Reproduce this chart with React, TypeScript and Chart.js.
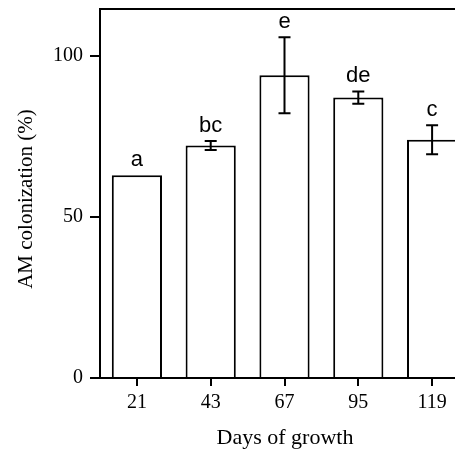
import React, { useEffect, useRef } from "react";
import { Chart, registerables } from "chart.js";

Chart.register(...registerables);

const days = ["21", "43", "67", "95", "119"];
const colonization = [63.0, 72.2, 94.0, 87.1, 74.0];
const errors = [0, 1.4, 11.8, 1.9, 4.5];
const letters = ["a", "bc", "e", "de", "c"];
const yTicks = [0, 50, 100];
const xTitle = "Days of growth";
const yTitle = "AM colonization (%)";

const SERIF = "'Liberation Serif', 'Times New Roman', serif";
const SANS = "'Liberation Sans', Arial, sans-serif";

const overlay = {
  id: "overlay",
  afterDatasetsDraw(chart: any) {
    const ctx = chart.ctx;
    const area = chart.chartArea;
    const ys = chart.scales.y;
    const meta = chart.getDatasetMeta(0);
    ctx.save();
    ctx.strokeStyle = "#000";
    ctx.lineWidth = 2;
    ctx.beginPath();
    ctx.moveTo(area.left, area.top);
    ctx.lineTo(area.right, area.top);
    ctx.lineTo(area.right, area.bottom);
    ctx.stroke();
    meta.data.forEach((bar: any, i: number) => {
      const v = colonization[i];
      const e = errors[i];
      const x = bar.x;
      const yTop = ys.getPixelForValue(v + e);
      if (e > 0) {
        const yBot = ys.getPixelForValue(v - e);
        ctx.beginPath();
        ctx.moveTo(x, yTop);
        ctx.lineTo(x, yBot);
        ctx.moveTo(x - 6, yTop);
        ctx.lineTo(x + 6, yTop);
        ctx.moveTo(x - 6, yBot);
        ctx.lineTo(x + 6, yBot);
        ctx.stroke();
      }
      ctx.fillStyle = "#000";
      ctx.font = `22px ${SANS}`;
      ctx.textAlign = "center";
      ctx.textBaseline = "alphabetic";
      ctx.fillText(letters[i], x, yTop - 9);
    });
    ctx.fillStyle = "#000";
    ctx.textAlign = "center";
    ctx.textBaseline = "middle";
    ctx.font = `22px ${SERIF}`;
    ctx.fillText(xTitle, 277, 430);
    ctx.translate(18, 191);
    ctx.rotate(-Math.PI / 2);
    ctx.font = `21px ${SERIF}`;
    ctx.fillText(yTitle, 0, 0);
    ctx.restore();
  },
};

export default function App() {
  const ref = useRef<HTMLCanvasElement | null>(null);
  useEffect(() => {
    if (!ref.current) return;
    const prevOverflow = document.body.style.overflow;
    document.body.style.overflow = "hidden";
    const chart = new Chart(ref.current, {
      type: "bar",
      data: {
        labels: days,
        datasets: [
          {
            data: colonization,
            backgroundColor: "#fff",
            borderColor: "#000",
            borderWidth: 2,
            barPercentage: 0.68,
            categoryPercentage: 1,
          },
        ],
      },
      options: {
        animation: false,
        responsive: false,
        maintainAspectRatio: false,
        layout: { padding: { top: 1, left: 0, right: 19, bottom: 0 } },
        plugins: { legend: { display: false }, tooltip: { enabled: false } },
        scales: {
          x: {
            offset: true,
            grid: {
              display: true,
              offset: false,
              drawOnChartArea: false,
              drawTicks: true,
              tickLength: 8,
              color: "#000",
              lineWidth: 2,
            },
            border: { display: true, color: "#000", width: 2 },
            ticks: {
              color: "#000",
              font: { family: SERIF, size: 20 },
              padding: 5,
              maxRotation: 0,
            },
            afterFit(scale: any) {
              scale.height = 77;
              scale.paddingLeft = 0;
              scale.paddingRight = 0;
            },
          },
          y: {
            min: 0,
            max: 114.6,
            grid: {
              display: true,
              drawOnChartArea: false,
              drawTicks: true,
              tickLength: 10,
              color: "#000",
              lineWidth: 2,
            },
            border: { display: true, color: "#000", width: 2 },
            ticks: {
              color: "#000",
              font: { family: SERIF, size: 20 },
              padding: 7,
            },
            afterBuildTicks(scale: any) {
              scale.ticks = yTicks.map((v) => ({ value: v }));
            },
            afterFit(scale: any) {
              scale.width = 92;
              scale.paddingTop = 0;
              scale.paddingBottom = 0;
            },
          },
        },
      },
      plugins: [overlay],
    });
    return () => {
      chart.destroy();
      document.body.style.overflow = prevOverflow;
    };
  }, []);
  return (
    <div style={{ width: 455, height: 447, overflow: "hidden" }}>
      <canvas ref={ref} width={480} height={447} style={{ display: "block" }} />
    </div>
  );
}
